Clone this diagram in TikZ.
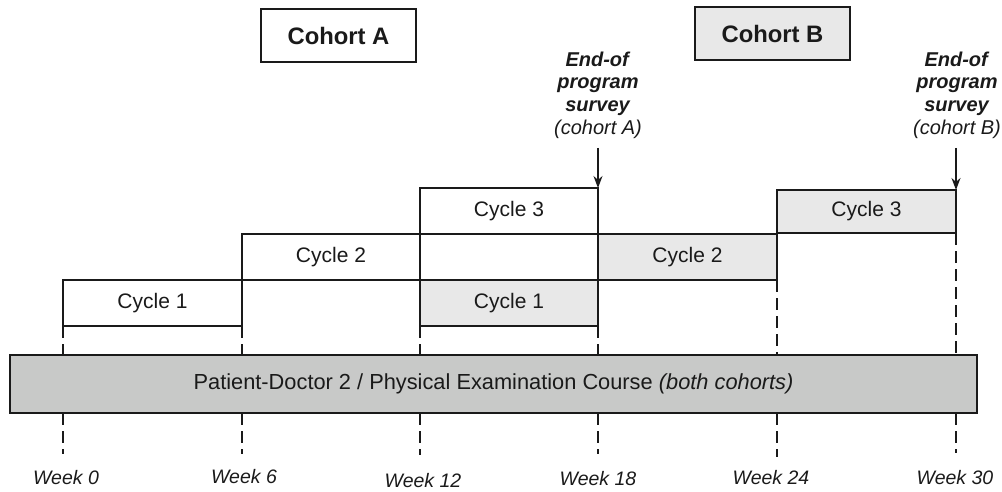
\documentclass[tikz,border=0pt]{standalone}
\usepackage{fontspec}
\setmainfont{Liberation Sans}
\usetikzlibrary{arrows.meta}
\definecolor{lite}{HTML}{E8E8E8}
\definecolor{coursegray}{HTML}{C8C9C8}
\definecolor{ink}{HTML}{1A1A1A}
\begin{document}
\begin{tikzpicture}[x=1pt,y=-1pt,
  box/.style={draw=ink,line width=1.4pt,rectangle,inner sep=0pt,outer sep=0pt,
    font=\fontsize{21}{24}\selectfont,text=ink},
  cycA/.style={box,fill=white},
  cycB/.style={box,fill=lite},
  course/.style={box,fill=coursegray,font=\fontsize{21.8}{24}\selectfont},
  cohort/.style={box,font=\fontsize{23.8}{26}\selectfont\bfseries},
  survey/.style={align=center,inner sep=0pt,text=ink,font=\fontsize{20}{22.7}\selectfont},
  week/.style={inner sep=0pt,text=ink,font=\fontsize{19.5}{22}\selectfont\itshape},
  dl/.style={draw=ink,line width=1.3pt,dash pattern=on 12pt off 6pt},
  arr/.style={draw=ink,line width=1.3pt,-{Stealth[length=12pt,width=9pt]}}]
\useasboundingbox (0,0) rectangle (1002,492);

% cohort labels
\node[cohort,fill=white,minimum width=155pt,minimum height=53pt] (cohA) at (338.5,35.5) {Cohort A};
\node[cohort,fill=lite,minimum width=155pt,minimum height=53pt] (cohB) at (772.5,33.5) {Cohort B};

% survey labels
\node[survey] (survA) at (598,95) {\textbf{\textit{End-of}}\\\textbf{\textit{program}}\\\textbf{\textit{survey}}\\\textit{(cohort A)}};
\node[survey] (survB) at (957,95) {\textbf{\textit{End-of}}\\\textbf{\textit{program}}\\\textbf{\textit{survey}}\\\textit{(cohort B)}};

% cycles
\node[cycA,minimum width=179pt,minimum height=46pt] (c1a) at (152.5,303) {Cycle 1};
\node[cycA,minimum width=178pt,minimum height=46pt] (c2a) at (331,257) {Cycle 2};
\node[cycA,minimum width=178pt,minimum height=46pt] (c3a) at (509,211) {Cycle 3};
\node[cycB,minimum width=178pt,minimum height=46pt] (c1b) at (509,303) {Cycle 1};
\node[cycB,minimum width=179pt,minimum height=46pt] (c2b) at (687.5,257) {Cycle 2};
\node[cycB,minimum width=179pt,minimum height=43pt] (c3b) at (866.5,211.5) {Cycle 3};

% course bar
\node[course,minimum width=967pt,minimum height=58pt] (course) at (493.5,384) {Patient-Doctor 2 / Physical Examination Course \textit{(both cohorts)}};

% arrows
\coordinate (aA) at (598,148);
\coordinate (aB) at (956,148);
\draw[arr] (aA) -- (c3a.north east);
\draw[arr] (aB) -- (c3b.north east);

% week labels
\node[week] (w0) at (66,478) {Week 0};
\node[week] (w6) at (244,477) {Week 6};
\node[week] (w12) at (423,481) {Week 12};
\node[week] (w18) at (598,479) {Week 18};
\node[week] (w24) at (771,478) {Week 24};
\node[week] (w30) at (955,478) {Week 30};

% lower dash ends
\coordinate (b0) at (63,454);
\coordinate (b6) at (242,454);
\coordinate (b12) at (420,455);
\coordinate (b18) at (598,454);
\coordinate (b24) at (777,457);
\coordinate (b30) at (956,453);

% upper dashed lines
\draw[dl] (c1a.south west) -- (c1a.south west |- course.north);
\draw[dl] (c1a.south east) -- (c1a.south east |- course.north);
\draw[dl] (c1b.south west) -- (c1b.south west |- course.north);
\draw[dl] (c1b.south east) -- (c1b.south east |- course.north);
\draw[dl] (c2b.south east) -- (c2b.south east |- course.north);
\draw[dl] (c3b.south east) -- (c3b.south east |- course.north);

% lower dashed lines
\draw[dl] (course.south -| b0) -- (b0);
\draw[dl] (course.south -| b6) -- (b6);
\draw[dl] (course.south -| b12) -- (b12);
\draw[dl] (course.south -| b18) -- (b18);
\draw[dl] (course.south -| b24) -- (b24);
\draw[dl] (course.south -| b30) -- (b30);
\end{tikzpicture}
\end{document}
